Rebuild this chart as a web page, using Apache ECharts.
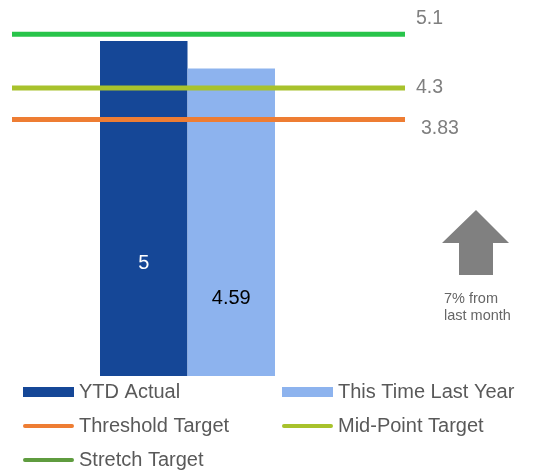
<!DOCTYPE html>
<html>
<head>
<meta charset="utf-8">
<script src="https://cdn.jsdelivr.net/npm/echarts@6/dist/echarts.min.js"></script>
<style>
  html, body { margin: 0; padding: 0; background: #fff; }
  #chart { width: 538px; height: 472px; }
</style>
</head>
<body>
<div id="chart"></div>
<script>
// values
const categories = ['YTD'];
const barNames = ['YTD Actual', 'This Time Last Year'];
const ytdActual = [5];
const lastYear = [4.59];
const targetNames = ['Threshold Target', 'Mid-Point Target', 'Stretch Target'];
const targetValues = [3.83, 4.3, 5.1];
const changeNote = '7% from\nlast month';

const FONT = '"Liberation Sans", Arial, sans-serif';
const targetColors = ['#ee7d33', '#a8c22c', '#28c44a'];
// label nudges for each target line's end label
const labelOffsets = [[5, 9], [0, 0], [0, -16]];
// thin rounded bar used as the legend mark of the target lines
const LINE_ICON = 'path://M2,0 L50,0 A2,2 0 0 1 50,4 L2,4 A2,2 0 0 1 2,0 Z';

const chart = echarts.init(document.getElementById('chart'));

const yAxisBase = { type: 'value', min: 0, max: 5.5, show: false };

const targetSeries = targetNames.map((name, i) => ({
  name: name,
  type: 'line',
  xAxisIndex: 1,
  yAxisIndex: 1,
  symbol: 'none',
  silent: true,
  z: 5,
  data: [[0, targetValues[i]], [1, targetValues[i]]],
  lineStyle: { color: targetColors[i], width: 5, opacity: 1 },
  itemStyle: { color: targetColors[i] },
  endLabel: {
    show: true,
    formatter: () => String(targetValues[i]),
    color: '#7f7f7f',
    fontSize: 19.5,
    fontFamily: FONT,
    distance: 11,
    offset: labelOffsets[i],
  },
}));

const legendBase = {
  orient: 'vertical',
  top: 382,
  padding: 0,
  itemWidth: 51,
  itemHeight: 10,
  itemGap: 14,
  textStyle: { color: '#595959', fontSize: 20, fontFamily: FONT, lineHeight: 20 },
};

const option = {
  animation: false,
  grid: [
    { left: 100, right: 263, top: 7.5, bottom: 96 },
    { left: 12, right: 133, top: 7.5, bottom: 96 },
  ],
  xAxis: [
    { type: 'category', data: categories, show: false, gridIndex: 0 },
    { type: 'value', min: 0, max: 1, show: false, gridIndex: 1 },
  ],
  yAxis: [
    Object.assign({ gridIndex: 0 }, yAxisBase),
    Object.assign({ gridIndex: 1 }, yAxisBase),
  ],
  legend: [
    Object.assign({}, legendBase, {
      left: 23,
      data: [
        { name: barNames[0], icon: 'rect' },
        { name: targetNames[0], icon: LINE_ICON },
        { name: targetNames[2], icon: LINE_ICON, itemStyle: { color: '#5f9c3f' } },
      ],
    }),
    Object.assign({}, legendBase, {
      left: 282,
      data: [
        { name: barNames[1], icon: 'rect' },
        { name: targetNames[1], icon: LINE_ICON },
      ],
    }),
  ],
  series: [
    {
      name: barNames[0],
      type: 'bar',
      data: ytdActual,
      barGap: '0%',
      barCategoryGap: '0%',
      itemStyle: { color: '#154797' },
      label: {
        show: true,
        position: 'insideBottom',
        distance: 103,
        color: '#ffffff',
        fontSize: 20,
        fontFamily: FONT,
      },
    },
    {
      name: barNames[1],
      type: 'bar',
      data: lastYear,
      barGap: '0%',
      barCategoryGap: '0%',
      itemStyle: { color: '#8db3ee' },
      label: {
        show: true,
        position: 'insideBottom',
        distance: 68,
        color: '#000000',
        fontSize: 20,
        fontFamily: FONT,
      },
    },
  ].concat(targetSeries),
  graphic: [
    {
      type: 'polygon',
      shape: {
        points: [[476, 210], [509, 243], [493, 243], [493, 275], [459, 275], [459, 243], [442, 243]],
      },
      style: { fill: '#808080' },
    },
    {
      type: 'text',
      left: 444,
      top: 290,
      style: {
        text: changeNote,
        fill: '#666666',
        font: '14.5px ' + FONT,
        lineHeight: 17,
      },
    },
  ],
};

chart.setOption(option);
</script>
</body>
</html>
